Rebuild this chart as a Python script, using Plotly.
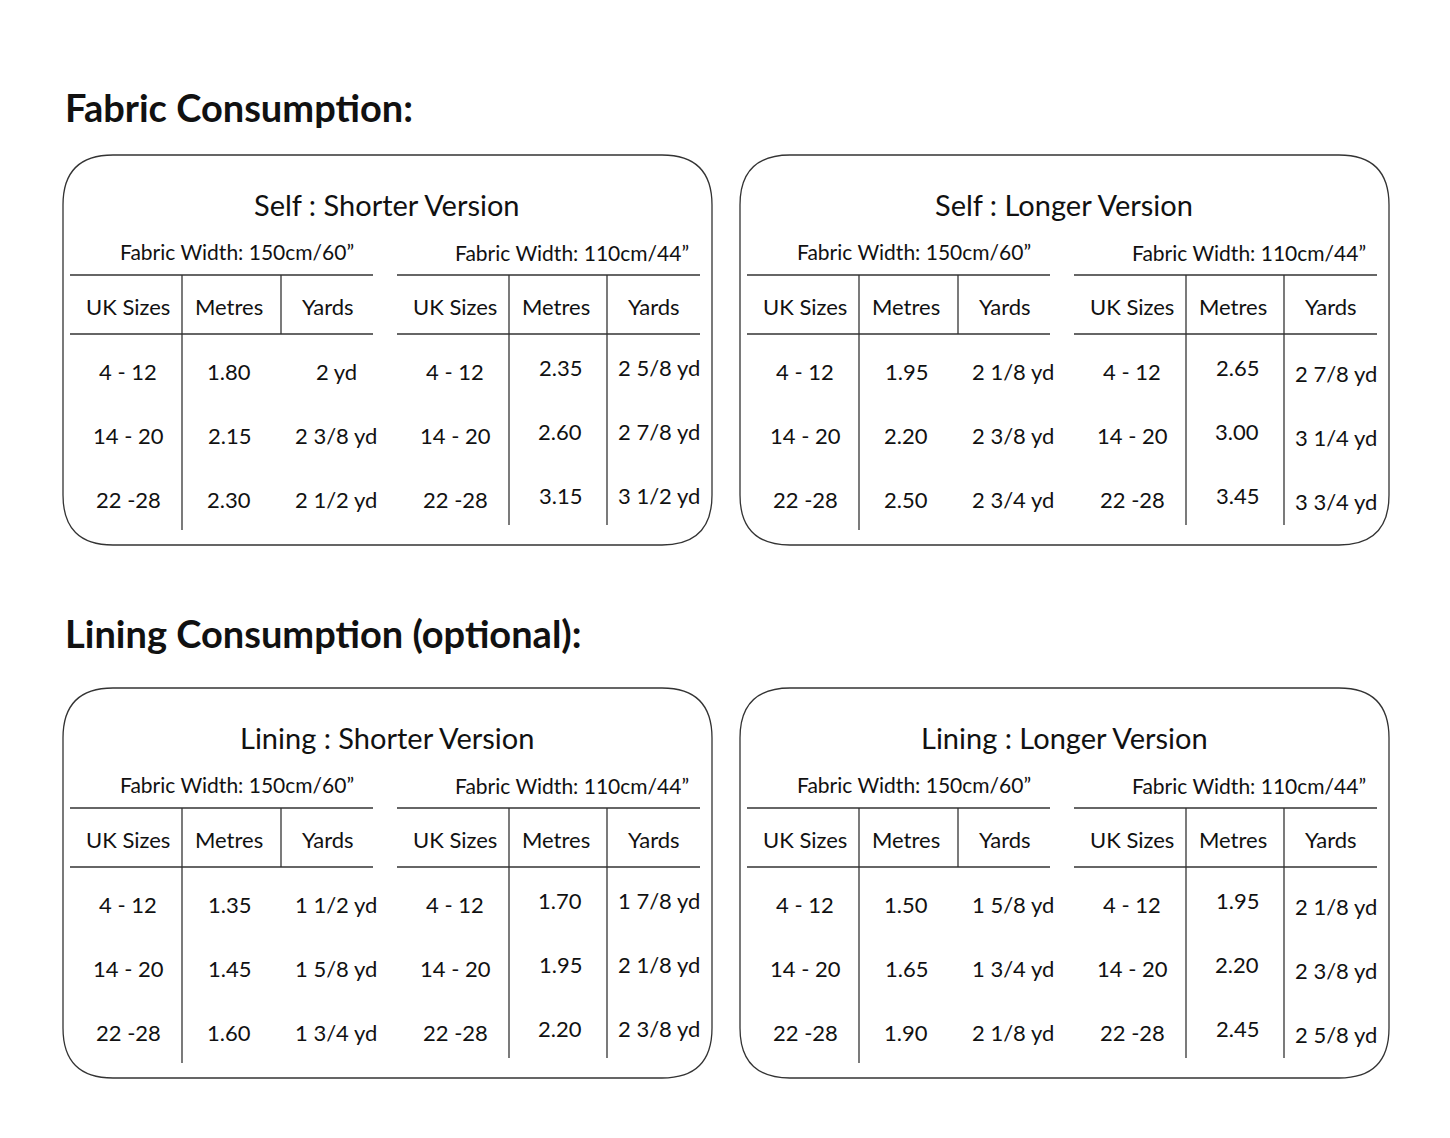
import plotly.graph_objects as go

sections = ["Fabric Consumption:", "Lining Consumption (optional):"]
panel_titles = ["Self : Shorter Version", "Self : Longer Version",
                "Lining : Shorter Version", "Lining : Longer Version"]
width_labels = ["Fabric Width: 150cm/60”", "Fabric Width: 110cm/44”"]
col_headers = ["UK Sizes", "Metres", "Yards"]
sizes = ["4 - 12", "14 - 20", "22 -28"]

metres_150 = [["1.80", "2.15", "2.30"], ["1.95", "2.20", "2.50"],
              ["1.35", "1.45", "1.60"], ["1.50", "1.65", "1.90"]]
yards_150 = [["2 yd", "2 3/8 yd", "2 1/2 yd"], ["2 1/8 yd", "2 3/8 yd", "2 3/4 yd"],
             ["1 1/2 yd", "1 5/8 yd", "1 3/4 yd"], ["1 5/8 yd", "1 3/4 yd", "2 1/8 yd"]]
metres_110 = [["2.35", "2.60", "3.15"], ["2.65", "3.00", "3.45"],
              ["1.70", "1.95", "2.20"], ["1.95", "2.20", "2.45"]]
yards_110 = [["2 5/8 yd", "2 7/8 yd", "3 1/2 yd"], ["2 7/8 yd", "3 1/4 yd", "3 3/4 yd"],
             ["1 7/8 yd", "2 1/8 yd", "2 3/8 yd"], ["2 1/8 yd", "2 3/8 yd", "2 5/8 yd"]]

FONT = "Lato"
W, H = 1450, 1138
S = 8  # page offset compensation
shapes, annos = [], []

def txt(x, y, s, size=22, anchor="center", bold=False):
    annos.append(dict(x=x - S, y=y - S, text=f"<b>{s}</b>" if bold else s, showarrow=False,
                      xanchor=anchor, yanchor="middle", xref="x", yref="y",
                      font=dict(family=FONT, size=size, color="#111")))

def line(x0, y0, x1, y1):
    shapes.append(dict(type="line", x0=x0 - S, y0=y0 - S, x1=x1 - S, y1=y1 - S, xref="x", yref="y",
                       line=dict(color="#333", width=1.3)))

def rbox(x0, y0, x1, y1, r=50):
    x0, y0, x1, y1 = x0 - S, y0 - S, x1 - S, y1 - S
    p = (f"M {x0+r},{y0} L {x1-r},{y0} Q {x1},{y0} {x1},{y0+r} L {x1},{y1-r} "
         f"Q {x1},{y1} {x1-r},{y1} L {x0+r},{y1} Q {x0},{y1} {x0},{y1-r} "
         f"L {x0},{y0+r} Q {x0},{y0} {x0+r},{y0} Z")
    shapes.append(dict(type="path", path=p, xref="x", yref="y",
                       line=dict(color="#333", width=1.3)))

txt(63, 107, sections[0], size=38, anchor="left", bold=True)
txt(63, 633, sections[1], size=38, anchor="left", bold=True)

origins = [(63, 155), (740, 155), (63, 688), (740, 688)]
for i, (x0, y0) in enumerate(origins):
    rbox(x0, y0, x0 + 649, y0 + 390)
    txt(x0 + 324, y0 + 49, panel_titles[i], size=29)
    txt(x0 + 174, y0 + 96, width_labels[0], size=21)
    txt(x0 + 509, y0 + 97, width_labels[1], size=21)
    for lx0, lx1 in [(x0 + 7, x0 + 310), (x0 + 334, x0 + 637)]:
        line(lx0, y0 + 120, lx1, y0 + 120)
        line(lx0, y0 + 179, lx1, y0 + 179)
    line(x0 + 119, y0 + 120, x0 + 119, y0 + 375)
    line(x0 + 218, y0 + 120, x0 + 218, y0 + 179)
    line(x0 + 446, y0 + 120, x0 + 446, y0 + 370)
    line(x0 + 544, y0 + 120, x0 + 544, y0 + 370)
    for cx, h in zip([x0 + 65, x0 + 166, x0 + 265], col_headers):
        txt(cx, y0 + 151, h, size=22)
    for cx, h in zip([x0 + 392, x0 + 493, x0 + 591], col_headers):
        txt(cx, y0 + 151, h, size=22)
    for r in range(3):
        y = y0 + 216 + 64 * r
        txt(x0 + 65, y, sizes[r])
        txt(x0 + 166, y, metres_150[i][r])
        txt(x0 + 273, y, yards_150[i][r])
        txt(x0 + 392, y, sizes[r])
        txt(x0 + 497, y - 4, metres_110[i][r])
        dy = -4 if i in (0, 2) else 2
        txt(x0 + 596, y + dy, yards_110[i][r])

fig = go.Figure()
fig.update_layout(width=W, height=H, margin=dict(l=0, r=0, t=0, b=0),
                  plot_bgcolor="white", paper_bgcolor="white",
                  xaxis=dict(range=[0, W], visible=False, fixedrange=True),
                  yaxis=dict(range=[H, 0], visible=False, fixedrange=True),
                  shapes=shapes, annotations=annos, showlegend=False)
fig.write_html("out.html")
